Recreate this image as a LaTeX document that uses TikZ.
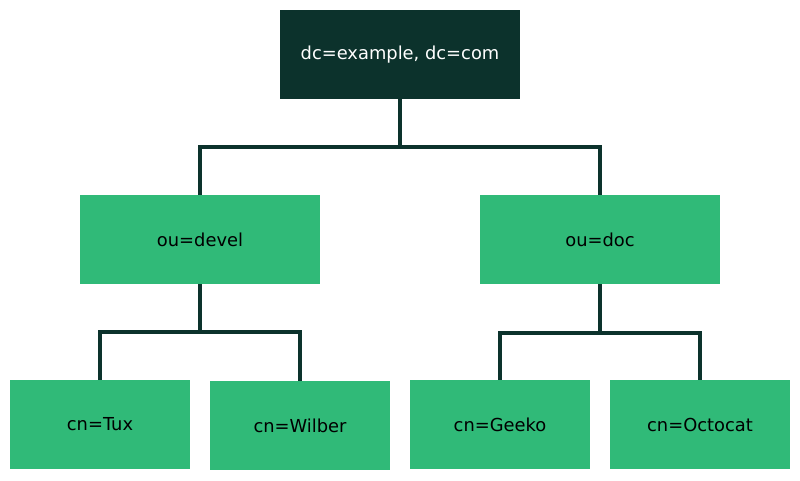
\documentclass[tikz,border=0pt]{standalone}
\usepackage{fontspec}
\setmainfont{DejaVu Sans}
\usetikzlibrary{calc}
\definecolor{pine}{HTML}{0C322C}
\definecolor{jungle}{HTML}{30BA78}
\tikzset{
  rootbox/.style={fill=pine, text=white, minimum width=180pt, minimum height=66.75pt, inner sep=0pt},
  oubox/.style={fill=jungle, text=black, minimum width=180pt, minimum height=66.75pt, inner sep=0pt},
  leafbox/.style={fill=jungle, text=black, minimum width=135pt, minimum height=66.75pt, inner sep=0pt},
  link/.style={draw=pine, line width=2.8pt}
}
\begin{document}
\begin{tikzpicture}[x=0.75pt, y=-0.75pt, font=\fontsize{13.4}{16}\selectfont]
\useasboundingbox (0,0) rectangle (800,480);
% directory tree: root, organisational units, entries
\node[rootbox] (root) at (400,54.5) {dc=example, dc=com};
\node[oubox] (devel) at (200,239.5) {ou=devel};
\node[oubox] (doc) at (600,239.5) {ou=doc};
\node[leafbox] (tux) at (100,424.5) {cn=Tux};
\node[leafbox] (wilber) at (300,425.5) {cn=Wilber};
\node[leafbox] (geeko) at (500,424.5) {cn=Geeko};
\node[leafbox] (octocat) at (700,424.5) {cn=Octocat};
% branches
\coordinate (rj) at ($(root.south)+(0,48)$);
\draw[link] (root.south) -- (rj) -| (devel.north);
\draw[link] (rj) -| (doc.north);
\coordinate (dj) at ($(devel.south)+(0,48)$);
\draw[link] (devel.south) -- (dj) -| (tux.north);
\draw[link] (dj) -| (wilber.north);
\coordinate (oj) at ($(doc.south)+(0,48.5)$);
\draw[link] (doc.south) -- (oj) -| (geeko.north);
\draw[link] (oj) -| (octocat.north);
\end{tikzpicture}
\end{document}
